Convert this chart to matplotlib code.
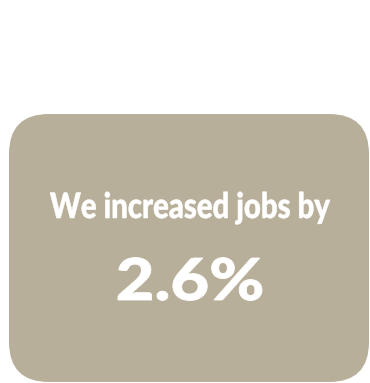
import matplotlib
matplotlib.use("Agg")
import matplotlib.pyplot as plt
from matplotlib.patches import FancyBboxPatch, PathPatch
from matplotlib.textpath import TextPath
from matplotlib.font_manager import FontProperties
from matplotlib.transforms import Affine2D

# contenido del cuadro
caption = "We increased jobs by"
value = 2.6
unit = "%"

box_color = "#b8af9a"

fig = plt.figure(figsize=(3.70, 3.83), dpi=100)
ax = fig.add_axes([0, 0, 1, 1])
ax.set_xlim(0, 370)
ax.set_ylim(383, 0)
ax.axis("off")

box = FancyBboxPatch((9, 114), 360, 268,
                     boxstyle="round,pad=0,rounding_size=40",
                     facecolor=box_color, edgecolor="none")
ax.add_patch(box)

fuente = FontProperties(family="Lato", weight=900)


def texto_estrecho(s, centro_x, base_y, ancho, alto_mayus, borde):
    """Dibuja el texto condensado: ancho total y altura de mayusculas en pixeles"""
    tp = TextPath((0, 0), s, size=1, prop=fuente)
    ext = tp.get_extents()
    cap = TextPath((0, 0), "H", size=1, prop=fuente).get_extents().y1
    sx = ancho / ext.width
    sy = alto_mayus / cap
    tr = Affine2D().translate(-ext.x0 - ext.width / 2, 0).scale(sx, -sy)
    tr = tr.translate(centro_x, base_y)
    path = tr.transform_path(tp)
    ax.add_patch(PathPatch(path, facecolor="white", edgecolor="white",
                           linewidth=borde))


texto_estrecho(caption, 190, 218, 280, 25.5, 0.4)
texto_estrecho(f"{value}{unit}", 190, 300, 144, 42, 0.6)

fig.savefig("out.png", dpi=100)
